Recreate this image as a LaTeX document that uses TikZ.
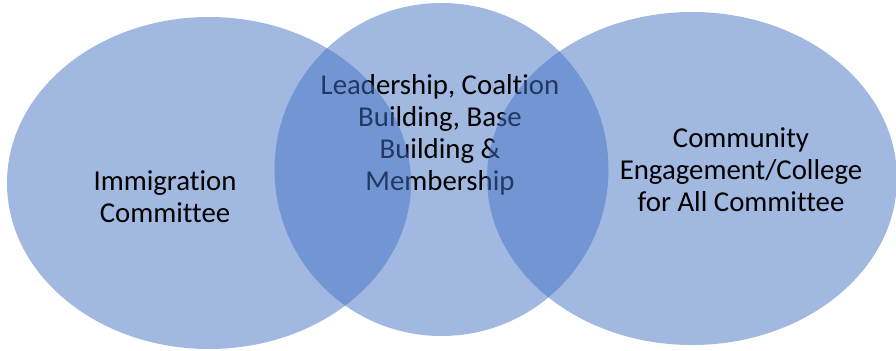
\documentclass[tikz,border=0pt]{standalone}
\usepackage{fontspec}
\setmainfont{Carlito}[Ligatures={NoCommon}]
\usepackage{tikz}
\usetikzlibrary{shapes.geometric}

\definecolor{vennblue}{RGB}{68,114,196}

\tikzset{
    circ/.style={ellipse, fill=vennblue, fill opacity=0.5, draw=none, inner sep=0pt, outer sep=0pt},
    txt/.style={align=center, text=black, inner sep=0pt, font=\fontsize{21.6}{24}\selectfont}
}

\begin{document}
\begin{tikzpicture}[x=0.75pt, y=-0.75pt]
    \useasboundingbox (0,0) rectangle (896,350);

    \node[circ, minimum width=250.5pt, minimum height=249.75pt] (mid) at (441.5,169.5) {};
    \node[txt] (midtext) at (440,135) {Leadership, Coaltion\\Building, Base\\Building \&\\Membership};

    \node[circ, minimum width=303pt, minimum height=249pt] (left) at (209,183) {};
    \node[txt] (lefttext) at (165,197) {Immigration\\Committee};

    \node[circ, minimum width=307.5pt, minimum height=249.75pt] (right) at (692,178.5) {};
    \node[txt] (righttext) at (741,170) {Community\\Engagement/College\\for All Committee};
\end{tikzpicture}
\end{document}
